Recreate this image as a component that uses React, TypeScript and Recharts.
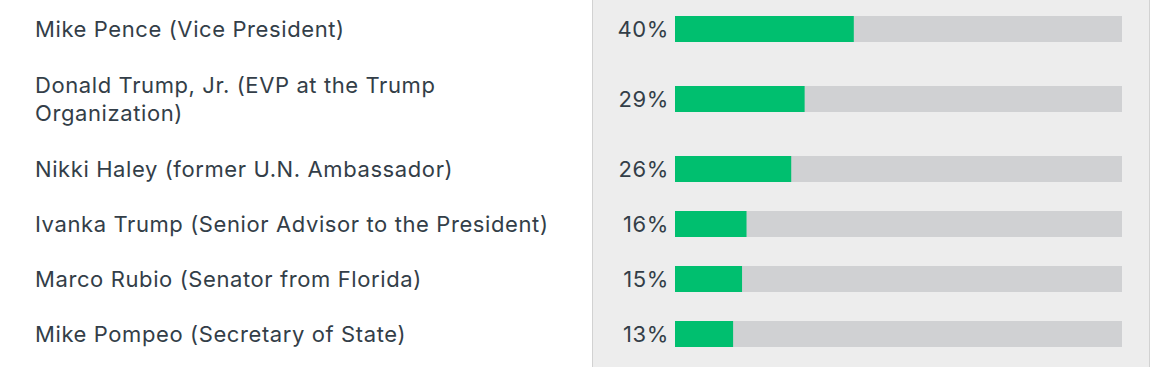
import React from 'react';
import { BarChart, Bar, XAxis, YAxis, LabelList } from 'recharts';

const categories = [
  'Mike Pence (Vice President)',
  'Donald Trump, Jr. (EVP at the Trump Organization)',
  'Nikki Haley (former U.N. Ambassador)',
  'Ivanka Trump (Senior Advisor to the President)',
  'Marco Rubio (Senator from Florida)',
  'Mike Pompeo (Secretary of State)',
];
const values = [40, 29, 26, 16, 15, 13];

const FONT_FAMILY = 'Inter, sans-serif';
const FONT_SIZE = 22;
const LETTER_SPACING = 0.6;
const TEXT_COLOR = '#333e48';
const WRAP_WIDTH = 532;
const BASE_ROW = 55;
const EXTRA_LINE = 30;
const LINE_HEIGHT = 28;

let ctx: CanvasRenderingContext2D | null = null;
function measure(text: string): number {
  if (!ctx) {
    ctx = document.createElement('canvas').getContext('2d');
  }
  if (!ctx) return text.length * FONT_SIZE * 0.52;
  ctx.font = `${FONT_SIZE}px ${FONT_FAMILY}`;
  return ctx.measureText(text).width + text.length * LETTER_SPACING;
}

function wrap(text: string, maxW: number): string[] {
  const words = text.split(' ');
  const lines: string[] = [];
  let cur = '';
  for (const w of words) {
    const cand = cur ? cur + ' ' + w : w;
    if (cur && measure(cand) > maxW) {
      lines.push(cur);
      cur = w;
    } else {
      cur = cand;
    }
  }
  if (cur) lines.push(cur);
  return lines;
}

export default function App() {
  const wrapped = categories.map((c) => wrap(c, WRAP_WIDTH));
  let acc = 0;
  const data = categories.map((name, i) => {
    const h = BASE_ROW + (wrapped[i].length - 1) * EXTRA_LINE;
    const pos = acc + h / 2;
    acc += h;
    return { name, value: values[i], pos, lines: wrapped[i] };
  });
  const total = acc;
  const byPos: Record<string, string[]> = {};
  data.forEach((d) => (byPos[String(d.pos)] = d.lines));

  const Tick = (props: any) => {
    const { y, payload } = props;
    const lines = byPos[String(payload.value)] || [];
    const startY = y - ((lines.length - 1) * LINE_HEIGHT) / 2;
    return (
      <text
        x={35}
        y={startY}
        fill={TEXT_COLOR}
        fontSize={FONT_SIZE}
        fontFamily={FONT_FAMILY}
        letterSpacing={LETTER_SPACING}
        textAnchor="start"
        dominantBaseline="central"
      >
        {lines.map((l, i) => (
          <tspan key={i} x={35} y={startY + i * LINE_HEIGHT}>
            {l}
          </tspan>
        ))}
      </text>
    );
  };

  return (
    <div style={{ position: 'absolute', left: 0, top: 0, width: 1154, height: 367, background: '#ffffff' }}>
      <div
        style={{
          position: 'absolute',
          left: 592,
          top: 0,
          width: 556,
          height: 367,
          background: '#ededed',
          borderLeft: '1px solid #d2d2d2',
          borderRight: '1px solid #d2d2d2',
        }}
      />
      <div style={{ position: 'absolute', left: 0, top: 0 }}>
        <BarChart
          width={1154}
          height={367}
          data={data}
          layout="vertical"
          margin={{ top: 1, right: 32, bottom: 6, left: 35 }}
        >
          <XAxis type="number" domain={[0, 100]} hide />
          <YAxis
            type="number"
            dataKey="pos"
            domain={[0, total]}
            width={640}
            ticks={data.map((d) => d.pos)}
            interval={0}
            axisLine={false}
            tickLine={false}
            tick={<Tick />}
          />
          <Bar
            dataKey="value"
            fill="#00bf6f"
            barSize={26}
            background={{ fill: '#d0d1d3' }}
            isAnimationActive={false}
          >
            <LabelList
              dataKey="value"
              position="left"
              offset={6}
              formatter={(v: any) => `${v}%`}
              fill={TEXT_COLOR}
              fontSize={FONT_SIZE}
              fontFamily={FONT_FAMILY}
              letterSpacing={LETTER_SPACING}
            />
          </Bar>
        </BarChart>
      </div>
    </div>
  );
}
